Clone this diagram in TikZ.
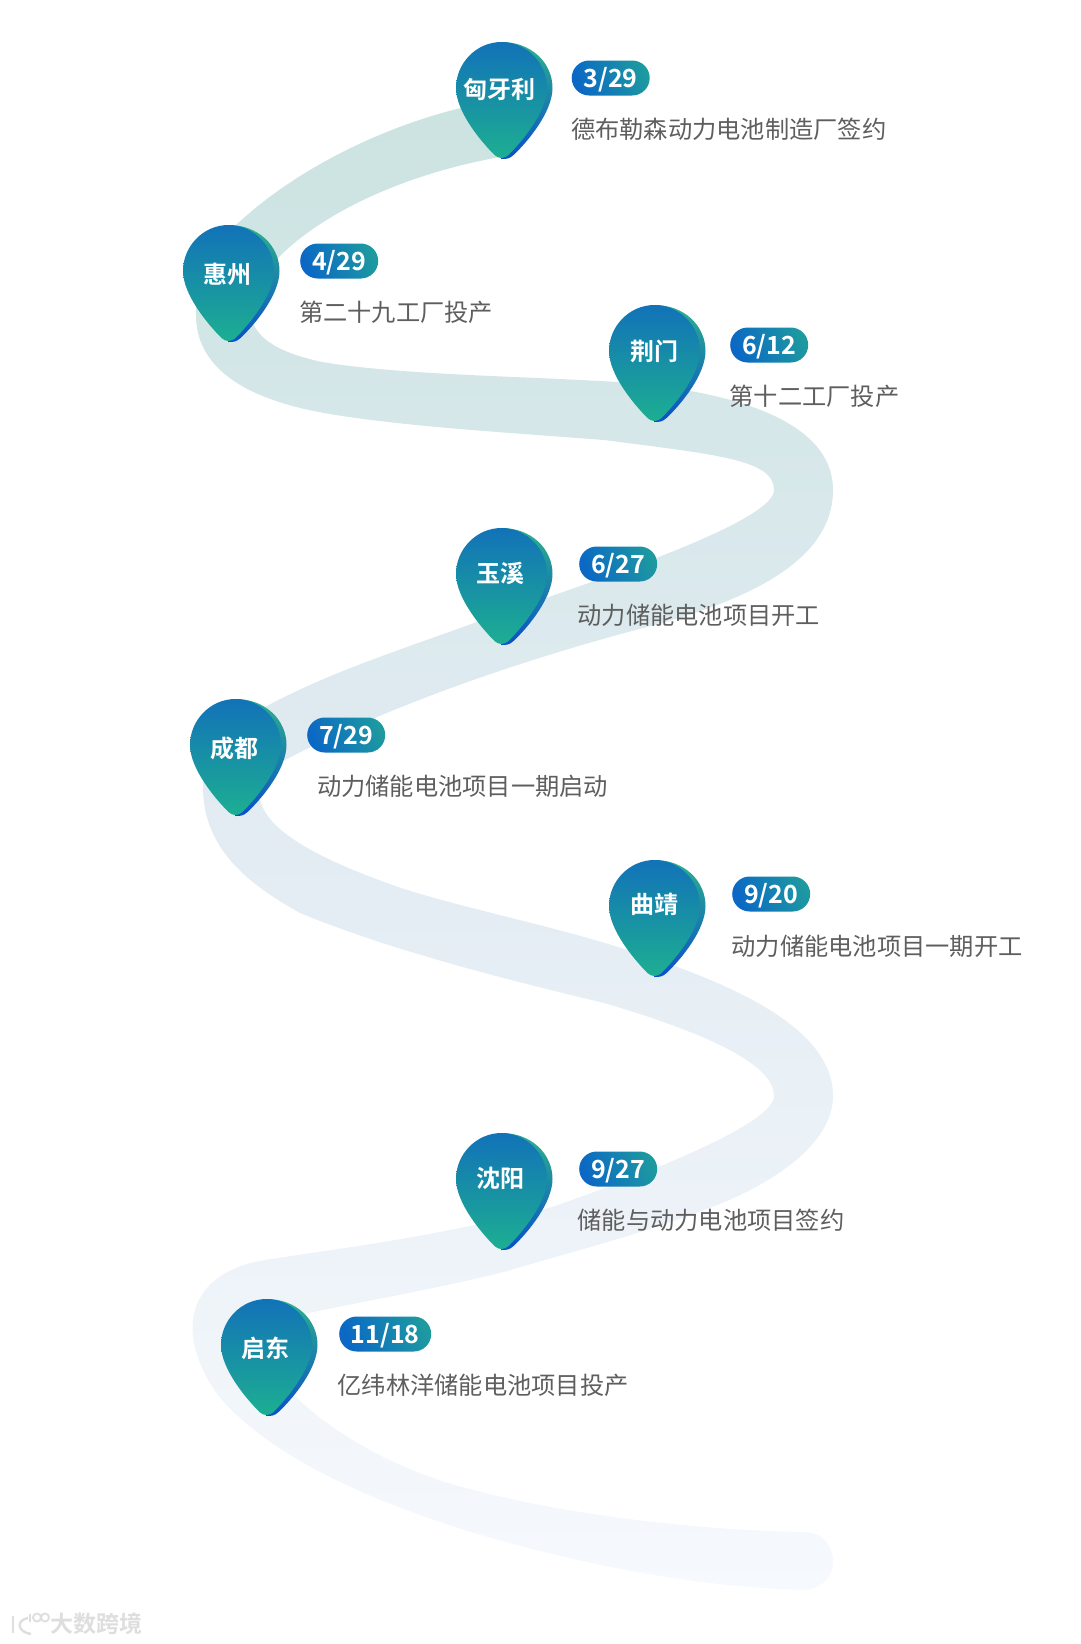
\documentclass[tikz,border=0pt]{standalone}
\usepackage{fontspec}
\setmainfont{Noto Sans CJK SC}[BoldFont={Noto Sans CJK SC Bold}]
\usetikzlibrary{positioning}
\definecolor{ribbontop}{HTML}{CBE3E1}
\definecolor{ribbonmid}{HTML}{E3ECF3}
\definecolor{ribbonend}{HTML}{F6F9FD}
\definecolor{pintop}{HTML}{1272B8}
\definecolor{pinend}{HTML}{1DAF91}
\definecolor{rimtop}{HTML}{2DB28A}
\definecolor{rimend}{HTML}{0A4FCB}
\definecolor{pillleft}{HTML}{0B68C5}
\definecolor{pillright}{HTML}{1D99A0}
\definecolor{notegray}{HTML}{5E5E5E}
\definecolor{markgray}{HTML}{DEDEDE}

\begin{document}
\begin{tikzpicture}[
      x=1pt, y=-1pt,
      city/.style={text=white, font=\fontsize{24}{28}\selectfont\bfseries, inner sep=0pt},
      datepill/.style={rounded corners=17.5pt, left color=pillleft, right color=pillright, shading angle=110,
        text=white, font=\fontsize{25}{30}\selectfont\bfseries, text height=18.5pt, text depth=0pt,
        minimum width=78pt, minimum height=35pt, inner sep=0pt, anchor=west},
      note/.style={text=notegray, font=\fontsize{24.25}{28}\selectfont, inner sep=0pt, anchor=west},
      brand/.style={text=markgray, font=\fontsize{23}{26}\selectfont\bfseries, inner sep=0pt, anchor=west},
      droplet/.pic={
        \shade[top color=rimtop, bottom color=rimend]
          (0,-46) .. controls (30,-46) and (51,-25) .. (51,0)
          .. controls (51,24) and (26,54) .. (12,67)
          .. controls (8,71) and (4,71) .. (0,71) -- cycle;
        \shade[top color=pintop, bottom color=pinend]
          (-45.5,0) .. controls (-45.5,-25) and (-25,-46) .. (0,-46)
          .. controls (25,-46) and (45.5,-25) .. (45.5,0)
          .. controls (45.5,24) and (20,54) .. (7,67)
          .. controls (3,71) and (-3,71) .. (-7,67)
          .. controls (-20,54) and (-45.5,24) .. (-45.5,0) -- cycle;
      },
    ]
    \useasboundingbox (0,0) rectangle (1080,1644);
    % ribbon
    \shade[top color=ribbontop, bottom color=ribbonend, middle color=ribbonmid]
      (500,157) .. controls (400,175) and (320,215) .. (278,258)
      .. controls (250,285) and (240,305) .. (255,327)
      .. controls (265,345) and (290,355) .. (322,362)
      .. controls (400,375) and (520,376) .. (617,382)
      .. controls (700,388) and (833,410) .. (833,490)
      .. controls (833,560) and (750,600) .. (647,627)
      .. controls (540,655) and (400,700) .. (285,760)
      .. controls (262,772) and (252,785) .. (261,803)
      .. controls (270,830) and (310,855) .. (387,883)
      .. controls (440,903) and (550,925) .. (621,948)
      .. controls (740,985) and (833,1030) .. (833,1096)
      .. controls (833,1145) and (770,1185) .. (712,1207)
      .. controls (640,1235) and (560,1255) .. (504,1272)
      .. controls (430,1290) and (370,1300) .. (309,1313)
      .. controls (270,1325) and (265,1365) .. (296,1397)
      .. controls (340,1440) and (410,1475) .. (474,1490)
      .. controls (560,1513) and (690,1530) .. (803,1532)
      .. controls (825,1532) and (833,1547) .. (833,1562)
      .. controls (833,1578) and (820,1590) .. (803,1590)
      .. controls (700,1587) and (590,1567) .. (474,1533)
      .. controls (390,1507) and (280,1465) .. (222,1400)
      .. controls (205,1380) and (192,1350) .. (192.5,1327)
      .. controls (193,1295) and (215,1268) .. (265,1260)
      .. controls (340,1248) and (420,1240) .. (552,1207)
      .. controls (635,1178) and (774,1125) .. (774,1096)
      .. controls (774,1070) and (730,1040) .. (604,1003)
      .. controls (500,978) and (390,950) .. (300,913)
      .. controls (250,885) and (203,850) .. (203,787)
      .. controls (203,750) and (230,725) .. (265,707)
      .. controls (330,672) and (400,650) .. (474,623)
      .. controls (560,592) and (774,525) .. (774,490)
      .. controls (774,460) and (720,455) .. (604,440)
      .. controls (500,432) and (380,425) .. (309,410)
      .. controls (240,395) and (196,365) .. (196,315)
      .. controls (196,280) and (210,250) .. (236,225)
      .. controls (300,165) and (390,125) .. (461,108)
      -- (500,100) -- cycle;
    % pins
    \pic at (501.5,88) {droplet};
    \pic at (228.5,271) {droplet};
    \pic at (654.5,351) {droplet};
    \pic at (501.5,574) {droplet};
    \pic at (235.5,745) {droplet};
    \pic at (654.5,906) {droplet};
    \pic at (501.5,1179) {droplet};
    \pic at (266.5,1345) {droplet};
    \node[city] (hungary) at (499,89) {匈牙利};
    \node[city] (huizhou) at (227,274) {惠州};
    \node[city] (jingmen) at (654,351) {荆门};
    \node[city] (yuxi) at (500,573) {玉溪};
    \node[city] (chengdu) at (234,748) {成都};
    \node[city] (qujing) at (654,904) {曲靖};
    \node[city] (shenyang) at (500,1178) {沈阳};
    \node[city] (qidong) at (265,1348) {启东};
    % dates
    \node[datepill] (d329) at (571.5,78) {3/29};
    \node[datepill] (d429) at (300,261) {4/29};
    \node[datepill] (d612) at (730,345) {6/12};
    \node[datepill] (d627) at (579,564) {6/27};
    \node[datepill] (d729) at (307,735) {7/29};
    \node[datepill] (d920) at (732,894) {9/20};
    \node[datepill] (d927) at (579,1169) {9/27};
    \node[datepill, minimum width=92pt] (d1118) at (339,1334) {11/18};
    % notes
    \node[note] (n329) at (571,129) {德布勒森动力电池制造厂签约};
    \node[note] (n429) at (299,312.5) {第二十九工厂投产};
    \node[note] (n612) at (729.5,396.5) {第十二工厂投产};
    \node[note] (n627) at (577.5,615.5) {动力储能电池项目开工};
    \node[note] (n729) at (317,786) {动力储能电池项目一期启动};
    \node[note] (n920) at (731.5,946.5) {动力储能电池项目一期开工};
    \node[note] (n927) at (577.5,1220.5) {储能与动力电池项目签约};
    \node[note] (n1118) at (337.5,1385.5) {亿纬林洋储能电池项目投产};
    % watermark
    \node[brand] (brandname) at (50,1624) {大数跨境};
    \draw[markgray, line width=2.4pt] (13,1616) -- (13,1633);
    \draw[markgray, line width=2.4pt] (28,1618) .. controls (16,1620) and (17,1632) .. (31,1634);
    \draw[markgray, line width=1.8pt] (30,1614) -- (30,1622) (37,1617.5) circle (4pt) (45,1617.5) circle (4pt);
  \end{tikzpicture}
\end{document}
